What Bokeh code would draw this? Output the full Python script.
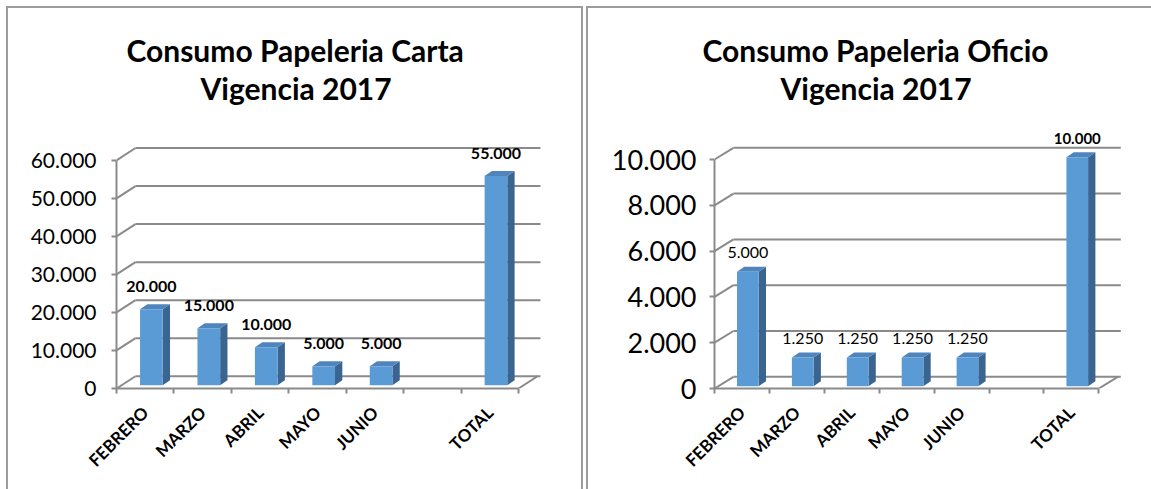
import math
from bokeh.plotting import figure
from bokeh.models import Range1d, FixedTicker, ColumnDataSource, Row, Title
from bokeh.core.properties import value
from bokeh.embed import file_html
from bokeh.resources import INLINE

# ---------------- data ----------------
categories = ["FEBRERO", "MARZO", "ABRIL", "MAYO", "JUNIO", "", "TOTAL"]
carta_values = [20000, 15000, 10000, 5000, 5000, None, 55000]
oficio_values = [5000, 1250, 1250, 1250, 1250, None, 10000]
carta_ticks = [0, 10000, 20000, 30000, 40000, 50000, 60000]
oficio_ticks = [0, 2000, 4000, 6000, 8000, 10000]
carta_title = ["Consumo Papeleria Carta", "Vigencia 2017"]
oficio_title = ["Consumo Papeleria Oficio", "Vigencia 2017"]

# label styles (not data)
carta_label_style = ["bold"] * 7
carta_label_size = ["16px"] * 7
oficio_label_style = ["normal", "normal", "normal", "normal", "normal", "normal", "bold"]
oficio_label_size = ["16px", "16px", "16px", "16px", "16px", "16px", "15px"]

FONT = "Lato"
GRID = "#8a8a8a"
FRONT = "#5b9bd5"
SIDE = "#3b6591"
TOP = "#4f84bd"


def fmt(v):
    return f"{v:,.0f}".replace(",", ".")


def panel(title_lines, title_offsets, cats, vals, ticks, label_style, label_size, *,
          width, height, left, right, bottom, top, cat_px, unit_px,
          depth_px, lift_px, label_dy, ytick_size, ystandoff):
    frame_w = width - left - right
    frame_h = height - bottom - top
    n = len(cats)

    p = figure(width=width, height=height, output_backend="svg",
               toolbar_location=None, tools="",
               x_range=Range1d(-0.5, -0.5 + frame_w / cat_px),
               y_range=Range1d(0, frame_h / unit_px),
               min_border_left=left, min_border_right=right,
               min_border_bottom=bottom, min_border_top=top,
               background_fill_color="white", border_fill_color="white",
               outline_line_color=None,
               styles={"outline": "2px solid #9c9c9c"})
    p.xgrid.visible = False
    p.ygrid.visible = False

    # two-line title: second line is added first so it sits next to the plot
    for line, off in reversed(list(zip(title_lines, title_offsets))):
        p.add_layout(Title(text=line, align="left", offset=off, standoff=0,
                           text_font=FONT, text_font_style="bold",
                           text_font_size="30px", text_color="black"), "above")

    dxd = depth_px[0] / cat_px
    dyd = depth_px[1] / unit_px
    x_back0 = -0.5 + dxd
    x_back1 = n - 0.5 + dxd + 3 / cat_px

    # back wall gridlines
    p.segment(x0=[x_back0] * len(ticks), y0=[t + dyd for t in ticks],
              x1=[x_back1] * len(ticks), y1=[t + dyd for t in ticks],
              line_color=GRID, line_width=2)
    # side diagonals from the value axis
    p.segment(x0=[-0.5] * len(ticks), y0=ticks,
              x1=[x_back0] * len(ticks), y1=[t + dyd for t in ticks],
              line_color=GRID, line_width=2)
    # floor right edge
    p.segment(x0=[n - 0.5], y0=[0], x1=[n - 0.5 + dxd], y1=[dyd],
              line_color=GRID, line_width=2)

    # bars
    lift = lift_px / unit_px
    bdx = 7.3 / cat_px
    bdy = 5.0 / unit_px
    fx0, fx1, fb, ft = [], [], [], []
    side_xs, side_ys, top_xs, top_ys = [], [], [], []
    lx, ly, lt, ls, lz = [], [], [], [], []
    for i, v in enumerate(vals):
        if v is None:
            continue
        x0 = i - 0.5 + 0.41
        x1 = i - 0.5 + 0.805
        b = lift
        t = v + lift
        fx0.append(x0); fx1.append(x1); fb.append(b); ft.append(t)
        side_xs.append([x1, x1 + bdx, x1 + bdx, x1])
        side_ys.append([b, b + bdy, t + bdy, t])
        top_xs.append([x0, x0 + bdx, x1 + bdx, x1])
        top_ys.append([t, t + bdy, t + bdy, t])
        lx.append((x0 + x1) / 2); ly.append(t); lt.append(fmt(v))
        ls.append(label_style[i]); lz.append(label_size[i])

    p.patches(xs=side_xs, ys=side_ys, fill_color=SIDE, line_color=None)
    p.patches(xs=top_xs, ys=top_ys, fill_color=TOP, line_color=None)
    p.quad(left=fx0, right=fx1, bottom=fb, top=ft, fill_color=FRONT, line_color=None)

    src = ColumnDataSource(dict(x=lx, y=ly, text=lt, style=ls, size=lz))
    p.text(x="x", y="y", text="text", source=src, text_font=value(FONT),
           text_font_style="style", text_font_size="size", text_color="black",
           text_align="center", text_baseline="middle", y_offset=-label_dy)

    # value axis
    ya = p.yaxis[0]
    ya.ticker = FixedTicker(ticks=ticks, minor_ticks=[])
    ya.major_label_overrides = {t: fmt(t) for t in ticks}
    ya.bounds = (0, ticks[-1])
    ya.axis_line_color = GRID
    ya.axis_line_width = 2
    ya.major_tick_line_color = GRID
    ya.major_tick_line_width = 2
    ya.major_tick_out = 5
    ya.major_tick_in = 0
    ya.minor_tick_out = 0
    ya.minor_tick_in = 0
    ya.major_label_text_font = FONT
    ya.major_label_text_font_size = ytick_size
    ya.major_label_text_color = "black"
    ya.major_label_standoff = ystandoff

    # category axis
    xa = p.xaxis[0]
    xa.ticker = FixedTicker(ticks=list(range(n)),
                            minor_ticks=[i - 0.5 for i in range(n + 1)])
    xa.major_label_overrides = {i: c for i, c in enumerate(cats)}
    xa.major_label_orientation = math.pi / 4
    xa.bounds = (-0.5, n - 0.5)
    xa.axis_line_color = GRID
    xa.axis_line_width = 2
    xa.major_tick_out = 0
    xa.major_tick_in = 0
    xa.minor_tick_line_color = GRID
    xa.minor_tick_line_width = 2
    xa.minor_tick_out = 5
    xa.minor_tick_in = 0
    xa.major_label_text_font = FONT
    xa.major_label_text_font_style = "bold"
    xa.major_label_text_font_size = "17px"
    xa.major_label_text_color = "black"
    xa.major_label_standoff = 16
    return p


p1 = panel(carta_title, [10, 84], categories, carta_values, carta_ticks,
           carta_label_style, carta_label_size,
           width=573, height=481, left=108, right=21, bottom=100, top=97,
           cat_px=57.43, unit_px=38.17 / 10000, depth_px=(19, 12.3), lift_px=3.3,
           label_dy=23, ytick_size="21px", ystandoff=15)

p2 = panel(oficio_title, [-12, 66], categories, oficio_values, oficio_ticks,
           oficio_label_style, oficio_label_size,
           width=563, height=481, left=126, right=16, bottom=101, top=97,
           cat_px=54.9, unit_px=45.8 / 2000, depth_px=(19, 11.7), lift_px=2.3,
           label_dy=19, ytick_size="27px", ystandoff=13)

layout = Row(children=[p1, p2], spacing=7,
             styles={"margin-left": "8px", "margin-top": "8px"})

with open("out.html", "w") as f:
    f.write(file_html(layout, INLINE))
